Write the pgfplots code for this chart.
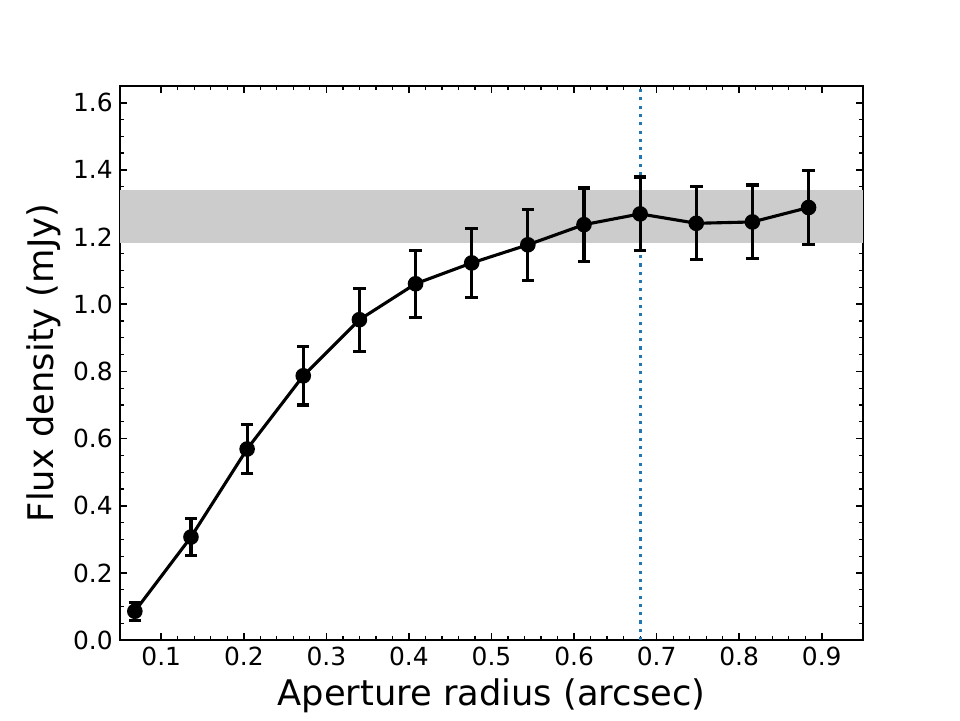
\documentclass[border=0pt]{standalone}
\usepackage{pgfplots}
\pgfplotsset{compat=1.18}
\usepackage{fontspec}
\setmainfont{DejaVu Sans}
\definecolor{mplblue}{HTML}{1F77B4}
\definecolor{bandgray}{RGB}{204,204,204}
\begin{document}
\begin{tikzpicture}
\useasboundingbox (-57.8pt,-38.5pt) rectangle (404.7pt,308.4pt);
\begin{axis}[
  at={(0,0)}, anchor=south west,
  scale only axis, width=358pt, height=267pt,
  xmin=0.05, xmax=0.95, ymin=0, ymax=1.65,
  xtick={0.1,0.2,...,0.9},
  ytick={0,0.2,...,1.6},
  minor x tick num=4, minor y tick num=3,
  xticklabel style={/pgf/number format/.cd, fixed, fixed zerofill, precision=1},
  yticklabel style={/pgf/number format/.cd, fixed, fixed zerofill, precision=1},
  /pgf/number format/assume math mode=true,
  tick align=inside, xtick pos=both, ytick pos=both,
  major tick length=3.4pt, minor tick length=2pt,
  every tick/.style={black, line width=0.8pt},
  minor tick style={line width=0.6pt},
  axis line style={line width=0.8pt},
  tick label style={font=\fontsize{12}{14}\selectfont},
  label style={font=\fontsize{17}{20}\selectfont},
  xlabel={Aperture radius (arcsec)},
  ylabel={Flux density (mJy)},
  xlabel style={yshift=1pt},
  ylabel style={yshift=-1pt},
]
\addplot[draw=none, fill=bandgray, forget plot] coordinates {(0.05,1.182) (0.95,1.182) (0.95,1.339) (0.05,1.339)} -- cycle;
\addplot[mplblue, line width=1.5pt, dash pattern=on 1.5pt off 2.5pt] coordinates {(0.68,0) (0.68,1.65)};
\addplot[black, line width=1.5pt, mark=*, mark size=3pt,
  error bars/.cd, y dir=both, y explicit,
  error bar style={line width=1.5pt},
  error mark options={rotate=90, mark size=3pt, line width=1.5pt}]
  table[x=x, y=y, y error=e] {
x y e
0.068 0.086 0.027
0.136 0.307 0.054
0.204 0.569 0.073
0.272 0.787 0.087
0.340 0.954 0.094
0.408 1.061 0.100
0.476 1.123 0.103
0.544 1.177 0.105
0.612 1.237 0.109
0.680 1.269 0.110
0.748 1.241 0.109
0.816 1.245 0.110
0.884 1.288 0.111
};
\end{axis}
\end{tikzpicture}
\end{document}
